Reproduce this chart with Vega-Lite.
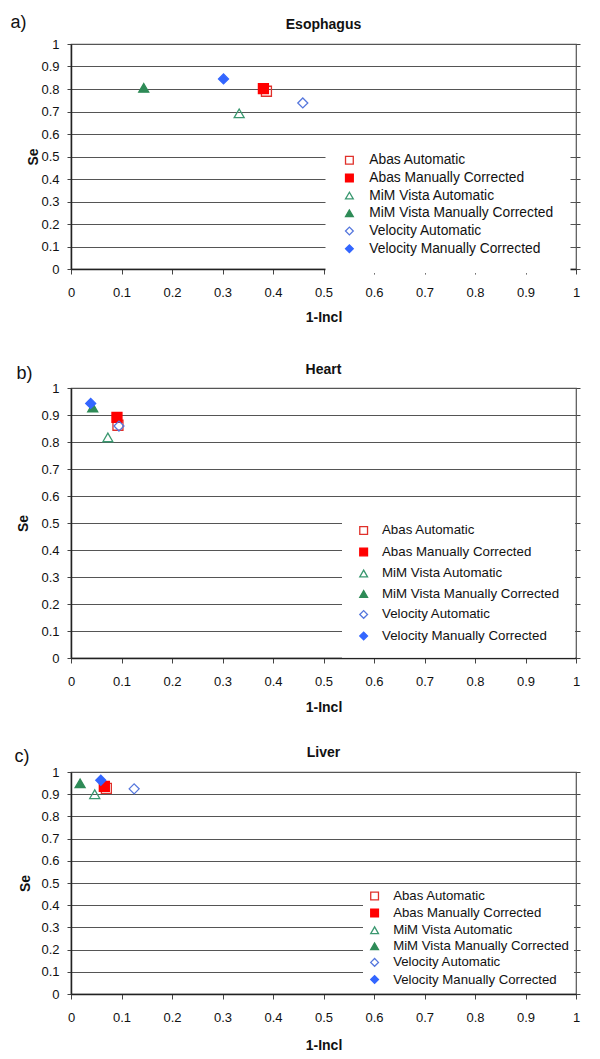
{
  "$schema": "https://vega.github.io/schema/vega-lite/v6.json",
  "padding": {"left": 9, "top": 13, "right": 10, "bottom": 8},
  "background": "white",
  "data": {"values": [
    {"organ": "Esophagus", "series": "Abas Automatic", "incl": 0.387, "se": 0.79},
    {"organ": "Esophagus", "series": "Abas Manually Corrected", "incl": 0.381, "se": 0.802},
    {"organ": "Esophagus", "series": "MiM Vista Automatic", "incl": 0.333, "se": 0.692},
    {"organ": "Esophagus", "series": "MiM Vista Manually Corrected", "incl": 0.144, "se": 0.805},
    {"organ": "Esophagus", "series": "Velocity Automatic", "incl": 0.459, "se": 0.738},
    {"organ": "Esophagus", "series": "Velocity Manually Corrected", "incl": 0.302, "se": 0.845},
    {"organ": "Heart", "series": "Abas Automatic", "incl": 0.093, "se": 0.862},
    {"organ": "Heart", "series": "Abas Manually Corrected", "incl": 0.091, "se": 0.891},
    {"organ": "Heart", "series": "MiM Vista Automatic", "incl": 0.073, "se": 0.817},
    {"organ": "Heart", "series": "MiM Vista Manually Corrected", "incl": 0.043, "se": 0.928},
    {"organ": "Heart", "series": "Velocity Automatic", "incl": 0.095, "se": 0.859},
    {"organ": "Heart", "series": "Velocity Manually Corrected", "incl": 0.039, "se": 0.943},
    {"organ": "Liver", "series": "Abas Automatic", "incl": 0.07, "se": 0.926},
    {"organ": "Liver", "series": "Abas Manually Corrected", "incl": 0.066, "se": 0.935},
    {"organ": "Liver", "series": "MiM Vista Automatic", "incl": 0.047, "se": 0.9},
    {"organ": "Liver", "series": "MiM Vista Manually Corrected", "incl": 0.018, "se": 0.949},
    {"organ": "Liver", "series": "Velocity Automatic", "incl": 0.125, "se": 0.924},
    {"organ": "Liver", "series": "Velocity Manually Corrected", "incl": 0.059, "se": 0.963}
  ]},
  "config": {
    "font": "Liberation Sans",
    "view": {"stroke": "#555", "strokeWidth": 1.2},
    "axis": {
      "labelFont": "Liberation Sans", "labelFontSize": 13, "labelColor": "#111",
      "titleFont": "Liberation Sans", "titleFontSize": 14, "titleFontWeight": "bold", "titleColor": "#111",
      "tickColor": "#444", "tickSize": 4, "domainColor": "#222", "domainWidth": 1.5,
      "gridColor": "#555", "gridWidth": 1, "labelFlush": false, "labelOverlap": false
    },
    "legend": {"labelFont": "Liberation Sans", "labelColor": "#111"}
  },
  "spacing": 37,
  "resolve": {"scale": {"x": "independent", "y": "independent", "shape": "independent", "fill": "independent", "stroke": "independent"}},
  "vconcat": [
    {
      "width": 505, "height": 225,
      "resolve": {"axis": {"y": "independent"}},
      "layer": [
        {
          "transform": [{"filter": "datum.organ === 'Esophagus'"}],
          "mark": {"type": "point", "opacity": 1, "strokeWidth": 1.3, "size": 100},
          "encoding": {
            "x": {"field": "incl", "type": "quantitative", "scale": {"domain": [0, 1], "nice": false},
              "axis": {"title": "1-Incl", "values": [0, 0.1, 0.2, 0.3, 0.4, 0.5, 0.6, 0.7, 0.8, 0.9, 1], "format": "~g", "grid": false, "tickSize": 5, "labelPadding": 12, "titlePadding": 11}},
            "y": {"field": "se", "type": "quantitative", "scale": {"domain": [0, 1], "nice": false},
              "axis": {"title": "Se", "values": [0, 0.1, 0.2, 0.3, 0.4, 0.5, 0.6, 0.7, 0.8, 0.9, 1], "format": "~g", "grid": true, "labelPadding": 8, "titlePadding": 0}},
            "shape": {"field": "series", "type": "nominal",
              "scale": {"domain": ["Abas Automatic", "Abas Manually Corrected", "MiM Vista Automatic", "MiM Vista Manually Corrected", "Velocity Automatic", "Velocity Manually Corrected"], "range": ["square", "square", "triangle-up", "triangle-up", "diamond", "diamond"]},
              "legend": {"title": null, "orient": "none", "legendX": 254.5, "legendY": 92.3, "fillColor": "white", "padding": 17, "rowPadding": 2.7, "labelFontSize": 13.8, "symbolSize": 60, "symbolStrokeWidth": 1.3, "labelOffset": 13, "labelLimit": 400, "labelExpr": "datum.label + '\u00a0'"}},
            "fill": {"field": "series", "type": "nominal",
              "scale": {"domain": ["Abas Automatic", "Abas Manually Corrected", "MiM Vista Automatic", "MiM Vista Manually Corrected", "Velocity Automatic", "Velocity Manually Corrected"], "range": ["transparent", "#ff0000", "transparent", "#2e8b57", "transparent", "#3366ff"]},
              "legend": {"title": null, "orient": "none", "legendX": 254.5, "legendY": 92.3, "fillColor": "white", "padding": 17, "rowPadding": 2.7, "labelFontSize": 13.8, "symbolSize": 60, "symbolStrokeWidth": 1.3, "labelOffset": 13, "labelLimit": 400, "labelExpr": "datum.label + '\u00a0'"}},
            "stroke": {"field": "series", "type": "nominal",
              "scale": {"domain": ["Abas Automatic", "Abas Manually Corrected", "MiM Vista Automatic", "MiM Vista Manually Corrected", "Velocity Automatic", "Velocity Manually Corrected"], "range": ["#e0302a", "#ff0000", "#3a9870", "#2e8b57", "#5577dd", "#3366ff"]},
              "legend": {"title": null, "orient": "none", "legendX": 254.5, "legendY": 92.3, "fillColor": "white", "padding": 17, "rowPadding": 2.7, "labelFontSize": 13.8, "symbolSize": 60, "symbolStrokeWidth": 1.3, "labelOffset": 13, "labelLimit": 400, "labelExpr": "datum.label + '\u00a0'"}}
          }
        },
        {
          "data": {"values": [{"label": "a)"}]},
          "mark": {"type": "text", "fontSize": 18, "font": "Liberation Sans", "align": "center", "baseline": "middle", "color": "#111"},
          "encoding": {"x": {"datum": -0.104}, "y": {"datum": 1.093, "axis": {"orient": "right", "labels": false, "title": null, "grid": false, "domain": false, "tickSize": 4, "values": [0, 0.1, 0.2, 0.3, 0.4, 0.5, 0.6, 0.7, 0.8, 0.9, 1]}}, "text": {"field": "label"}}
        },
        {
          "data": {"values": [{"label": "Esophagus"}]},
          "mark": {"type": "text", "fontSize": 14, "fontWeight": "bold", "font": "Liberation Sans", "align": "center", "baseline": "middle", "color": "#111"},
          "encoding": {"x": {"datum": 0.5}, "y": {"datum": 1.084, "axis": null}, "text": {"field": "label"}}
        }
      ]
    },
    {
      "spacing": 30,
      "resolve": {"scale": {"x": "independent", "y": "independent", "shape": "independent", "fill": "independent", "stroke": "independent"}},
      "vconcat": [
        {
          "width": 505, "height": 270,
          "resolve": {"axis": {"y": "independent"}},
          "layer": [
            {
              "transform": [{"filter": "datum.organ === 'Heart'"}],
              "mark": {"type": "point", "opacity": 1, "strokeWidth": 1.3, "size": 100},
              "encoding": {
                "x": {"field": "incl", "type": "quantitative", "scale": {"domain": [0, 1], "nice": false},
                  "axis": {"title": "1-Incl", "values": [0, 0.1, 0.2, 0.3, 0.4, 0.5, 0.6, 0.7, 0.8, 0.9, 1], "format": "~g", "grid": false, "tickSize": 5, "labelPadding": 12, "titlePadding": 12}},
                "y": {"field": "se", "type": "quantitative", "scale": {"domain": [0, 1], "nice": false},
                  "axis": {"title": "Se", "values": [0, 0.1, 0.2, 0.3, 0.4, 0.5, 0.6, 0.7, 0.8, 0.9, 1], "format": "~g", "grid": true, "labelPadding": 8, "titlePadding": 10}},
                "shape": {"field": "series", "type": "nominal",
                  "scale": {"domain": ["Abas Automatic", "Abas Manually Corrected", "MiM Vista Automatic", "MiM Vista Manually Corrected", "Velocity Automatic", "Velocity Manually Corrected"], "range": ["square", "square", "triangle-up", "triangle-up", "diamond", "diamond"]},
                  "legend": {"title": null, "orient": "none", "legendX": 271, "legendY": 120.8, "fillColor": "white", "padding": 15, "rowPadding": 6.5, "labelFontSize": 13.3, "symbolSize": 60, "symbolStrokeWidth": 1.3, "labelOffset": 11.7, "labelLimit": 400}},
                "fill": {"field": "series", "type": "nominal",
                  "scale": {"domain": ["Abas Automatic", "Abas Manually Corrected", "MiM Vista Automatic", "MiM Vista Manually Corrected", "Velocity Automatic", "Velocity Manually Corrected"], "range": ["transparent", "#ff0000", "transparent", "#2e8b57", "transparent", "#3366ff"]},
                  "legend": {"title": null, "orient": "none", "legendX": 271, "legendY": 120.8, "fillColor": "white", "padding": 15, "rowPadding": 6.5, "labelFontSize": 13.3, "symbolSize": 60, "symbolStrokeWidth": 1.3, "labelOffset": 11.7, "labelLimit": 400}},
                "stroke": {"field": "series", "type": "nominal",
                  "scale": {"domain": ["Abas Automatic", "Abas Manually Corrected", "MiM Vista Automatic", "MiM Vista Manually Corrected", "Velocity Automatic", "Velocity Manually Corrected"], "range": ["#e0302a", "#ff0000", "#3a9870", "#2e8b57", "#5577dd", "#3366ff"]},
                  "legend": {"title": null, "orient": "none", "legendX": 271, "legendY": 120.8, "fillColor": "white", "padding": 15, "rowPadding": 6.5, "labelFontSize": 13.3, "symbolSize": 60, "symbolStrokeWidth": 1.3, "labelOffset": 11.7, "labelLimit": 400}}
              }
            },
            {
              "data": {"values": [{"label": "b)"}]},
              "mark": {"type": "text", "fontSize": 18, "font": "Liberation Sans", "align": "center", "baseline": "middle", "color": "#111"},
              "encoding": {"x": {"datum": -0.092}, "y": {"datum": 1.052, "axis": {"orient": "right", "labels": false, "title": null, "grid": false, "domain": false, "tickSize": 4, "values": [0, 0.1, 0.2, 0.3, 0.4, 0.5, 0.6, 0.7, 0.8, 0.9, 1]}}, "text": {"field": "label"}}
            },
            {
              "data": {"values": [{"label": "Heart"}]},
              "mark": {"type": "text", "fontSize": 14, "fontWeight": "bold", "font": "Liberation Sans", "align": "center", "baseline": "middle", "color": "#111"},
              "encoding": {"x": {"datum": 0.5}, "y": {"datum": 1.066, "axis": null}, "text": {"field": "label"}}
            }
          ]
        },
        {
          "width": 505, "height": 222,
          "resolve": {"axis": {"y": "independent"}},
          "layer": [
            {
              "transform": [{"filter": "datum.organ === 'Liver'"}],
              "mark": {"type": "point", "opacity": 1, "strokeWidth": 1.3, "size": 100},
              "encoding": {
                "x": {"field": "incl", "type": "quantitative", "scale": {"domain": [0, 1], "nice": false},
                  "axis": {"title": "1-Incl", "values": [0, 0.1, 0.2, 0.3, 0.4, 0.5, 0.6, 0.7, 0.8, 0.9, 1], "format": "~g", "grid": false, "tickSize": 5, "labelPadding": 12, "titlePadding": 14}},
                "y": {"field": "se", "type": "quantitative", "scale": {"domain": [0, 1], "nice": false},
                  "axis": {"title": "Se", "values": [0, 0.1, 0.2, 0.3, 0.4, 0.5, 0.6, 0.7, 0.8, 0.9, 1], "format": "~g", "grid": true, "labelPadding": 8, "titlePadding": 8}},
                "shape": {"field": "series", "type": "nominal",
                  "scale": {"domain": ["Abas Automatic", "Abas Manually Corrected", "MiM Vista Automatic", "MiM Vista Manually Corrected", "Velocity Automatic", "Velocity Manually Corrected"], "range": ["square", "square", "triangle-up", "triangle-up", "diamond", "diamond"]},
                  "legend": {"title": null, "orient": "none", "legendX": 292, "legendY": 112.4, "fillColor": "white", "padding": 5, "rowPadding": 2.1, "labelFontSize": 13.2, "symbolSize": 60, "symbolStrokeWidth": 1.3, "labelOffset": 12, "labelLimit": 400}},
                "fill": {"field": "series", "type": "nominal",
                  "scale": {"domain": ["Abas Automatic", "Abas Manually Corrected", "MiM Vista Automatic", "MiM Vista Manually Corrected", "Velocity Automatic", "Velocity Manually Corrected"], "range": ["transparent", "#ff0000", "transparent", "#2e8b57", "transparent", "#3366ff"]},
                  "legend": {"title": null, "orient": "none", "legendX": 292, "legendY": 112.4, "fillColor": "white", "padding": 5, "rowPadding": 2.1, "labelFontSize": 13.2, "symbolSize": 60, "symbolStrokeWidth": 1.3, "labelOffset": 12, "labelLimit": 400}},
                "stroke": {"field": "series", "type": "nominal",
                  "scale": {"domain": ["Abas Automatic", "Abas Manually Corrected", "MiM Vista Automatic", "MiM Vista Manually Corrected", "Velocity Automatic", "Velocity Manually Corrected"], "range": ["#e0302a", "#ff0000", "#3a9870", "#2e8b57", "#5577dd", "#3366ff"]},
                  "legend": {"title": null, "orient": "none", "legendX": 292, "legendY": 112.4, "fillColor": "white", "padding": 5, "rowPadding": 2.1, "labelFontSize": 13.2, "symbolSize": 60, "symbolStrokeWidth": 1.3, "labelOffset": 12, "labelLimit": 400}}
              }
            },
            {
              "data": {"values": [{"label": "c)"}]},
              "mark": {"type": "text", "fontSize": 18, "font": "Liberation Sans", "align": "center", "baseline": "middle", "color": "#111"},
              "encoding": {"x": {"datum": -0.097}, "y": {"datum": 1.068, "axis": {"orient": "right", "labels": false, "title": null, "grid": false, "domain": false, "tickSize": 4, "values": [0, 0.1, 0.2, 0.3, 0.4, 0.5, 0.6, 0.7, 0.8, 0.9, 1]}}, "text": {"field": "label"}}
            },
            {
              "data": {"values": [{"label": "Liver"}]},
              "mark": {"type": "text", "fontSize": 14, "fontWeight": "bold", "font": "Liberation Sans", "align": "center", "baseline": "middle", "color": "#111"},
              "encoding": {"x": {"datum": 0.5}, "y": {"datum": 1.085, "axis": null}, "text": {"field": "label"}}
            }
          ]
        }
      ]
    }
  ]
}
